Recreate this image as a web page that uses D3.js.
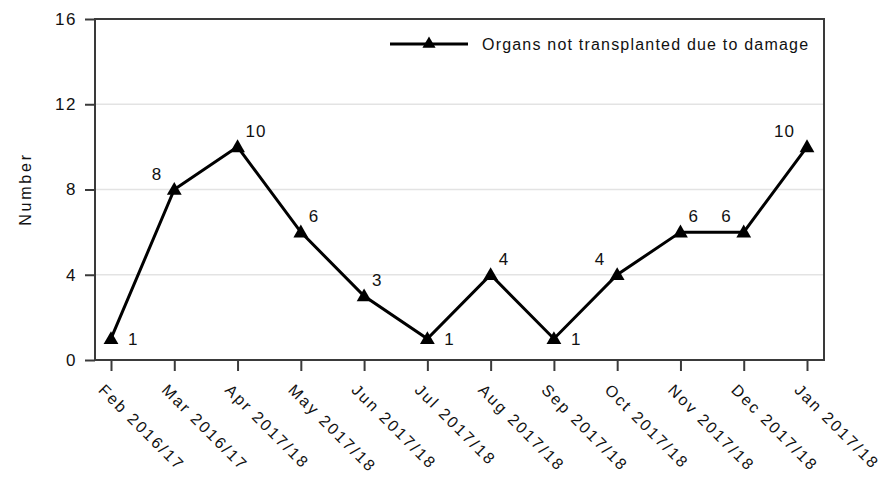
<!DOCTYPE html>
<html>
<head>
<meta charset="utf-8">
<script src="https://cdn.jsdelivr.net/npm/d3@7"></script>
<style>
  html, body { margin: 0; padding: 0; background: #fff; }
  svg { display: block; font-family: "Liberation Sans", Arial, sans-serif; }
</style>
</head>
<body>
<svg id="chart" width="886" height="480"></svg>
<script>
const categories = ["Feb 2016/17","Mar 2016/17","Apr 2017/18","May 2017/18","Jun 2017/18","Jul 2017/18","Aug 2017/18","Sep 2017/18","Oct 2017/18","Nov 2017/18","Dec 2017/18","Jan 2017/18"];
const values = [1, 8, 10, 6, 3, 1, 4, 1, 4, 6, 6, 10];
const yTicks = [0, 4, 8, 12, 16];
const seriesName = "Organs not transplanted due to damage";
const yTitle = "Number";
// label placement keyword per point (r = right, ur = upper right, ul = upper left)
const labelPlacement = ["r","ul","ur","ur","ur","r","ur","r","ul","ur","ul","ul"];

(function () {
const svg = d3.select("#chart");
const pL = 95, pR = 824, pT = 19, pB = 360;

const x = d3.scalePoint().domain(categories).range([111, 807]);
const y = d3.scaleLinear().domain([0, 16]).range([pB, pT]);

// gridlines
svg.append("g")
  .selectAll("line")
  .data(yTicks.filter(t => t > 0 && t < 16))
  .join("line")
  .attr("x1", pL).attr("x2", pR)
  .attr("y1", d => y(d)).attr("y2", d => y(d))
  .attr("stroke", "#e3e3e3").attr("stroke-width", 1.5);

// frame
svg.append("rect")
  .attr("x", pL).attr("y", pT)
  .attr("width", pR - pL).attr("height", pB - pT)
  .attr("fill", "none").attr("stroke", "#3a3a3a").attr("stroke-width", 2);

// y axis
const yAxis = svg.append("g")
  .attr("transform", `translate(${pL},0)`)
  .call(d3.axisLeft(y).tickValues(yTicks).tickSize(10).tickPadding(8).tickFormat(d3.format("d")));
yAxis.select(".domain").remove();
yAxis.selectAll(".tick line").attr("stroke", "#3a3a3a").attr("stroke-width", 2);
yAxis.selectAll(".tick text")
  .attr("font-family", "Liberation Sans, Arial, sans-serif")
  .attr("font-size", 17).attr("letter-spacing", 1.5).attr("fill", "#111");

// x axis
const xAxis = svg.append("g")
  .attr("transform", `translate(0,${pB})`)
  .call(d3.axisBottom(x).tickSize(11).tickFormat(d => d));
xAxis.select(".domain").remove();
xAxis.selectAll(".tick line").attr("stroke", "#3a3a3a").attr("stroke-width", 2);
xAxis.selectAll(".tick text")
  .attr("font-family", "Liberation Sans, Arial, sans-serif")
  .attr("font-size", 16).attr("letter-spacing", 2.2).attr("fill", "#111")
  .attr("text-anchor", "start")
  .attr("dy", null)
  .attr("y", 0)
  .attr("transform", "translate(-14,31) rotate(45)");

// y title
svg.append("text")
  .attr("transform", `translate(31,189) rotate(-90)`)
  .attr("text-anchor", "middle")
  .attr("font-size", 16).attr("letter-spacing", 2.8).attr("fill", "#111")
  .text(yTitle);

// line
const line = d3.line().x((d, i) => x(categories[i])).y(d => y(d));
svg.append("path")
  .datum(values)
  .attr("d", line)
  .attr("fill", "none").attr("stroke", "#000").attr("stroke-width", 3)
  .attr("stroke-linejoin", "miter");

// markers
const tri = d3.symbol().type(d3.symbolTriangle).size(95);
svg.append("g").selectAll("path")
  .data(values)
  .join("path")
  .attr("d", tri)
  .attr("transform", (d, i) => `translate(${x(categories[i])},${y(d) + 1})`)
  .attr("fill", "#000");

// data labels
svg.append("g").selectAll("text")
  .data(values)
  .join("text")
  .attr("font-size", 17).attr("letter-spacing", 1).attr("fill", "#111")
  .attr("x", (d, i) => {
    const p = labelPlacement[i], cx = x(categories[i]);
    return p === "r" ? cx + 17 : p === "ur" ? cx + 8 : cx - 12;
  })
  .attr("y", (d, i) => {
    const p = labelPlacement[i], cy = y(d);
    return p === "r" ? cy + 6 : cy - 10;
  })
  .attr("text-anchor", (d, i) => labelPlacement[i] === "ul" ? "end" : "start")
  .text(d => d);

// legend
const lg = svg.append("g");
lg.append("line").attr("x1", 390).attr("x2", 468).attr("y1", 44).attr("y2", 44)
  .attr("stroke", "#000").attr("stroke-width", 3);
lg.append("path").attr("d", d3.symbol().type(d3.symbolTriangle).size(75))
  .attr("transform", "translate(429,44)").attr("fill", "#000");
lg.append("text").attr("x", 482).attr("y", 50)
  .attr("font-size", 16).attr("letter-spacing", 1.2).attr("fill", "#111")
  .text(seriesName);
})();
</script>
</body>
</html>
